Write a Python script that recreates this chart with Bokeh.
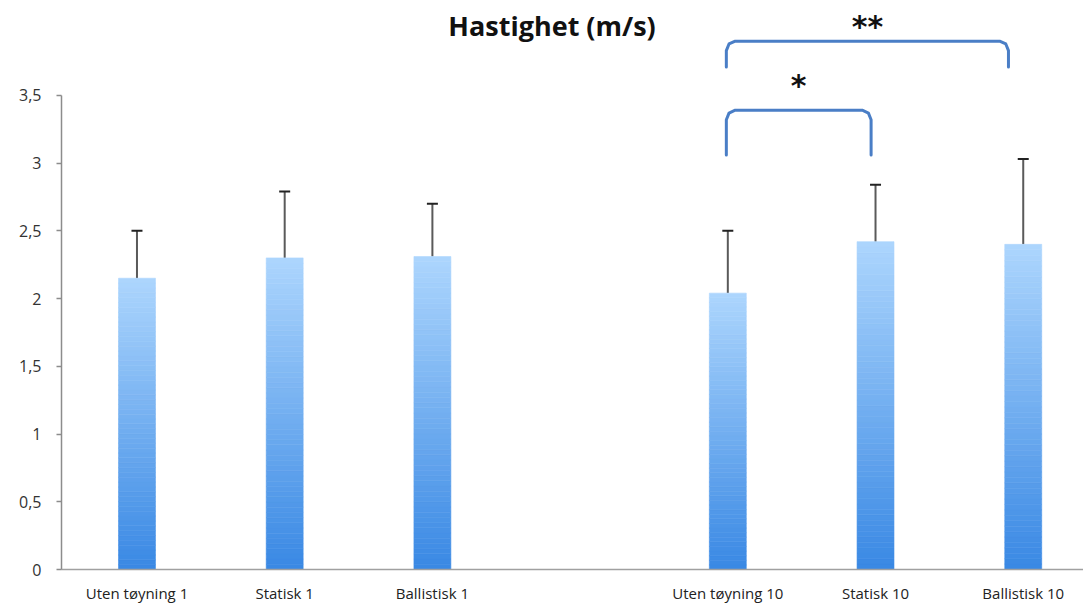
from bokeh.plotting import figure
from bokeh.models import ColumnDataSource, FixedTicker, Whisker, TeeHead, Range1d
from bokeh.embed import file_html
from bokeh.resources import INLINE
from bokeh.core.properties import value

# ---- data ----
title_text = "Hastighet (m/s)"
categories = ["Uten tøyning 1", "Statisk 1", "Ballistisk 1",
              "Uten tøyning 10", "Statisk 10", "Ballistisk 10"]
means = [2.15, 2.30, 2.31, 2.04, 2.42, 2.40]
upper_err = [2.50, 2.79, 2.70, 2.50, 2.84, 3.03]
y_ticks = [0, 0.5, 1, 1.5, 2, 2.5, 3, 3.5]
y_tick_labels = ["0", "0,5", "1", "1,5", "2", "2,5", "3", "3,5"]

sig_labels = ["*", "**"]
sig_x0 = [3.99, 3.99]
sig_x1 = [4.97, 5.90]
sig_top = [3.39, 3.90]
sig_bottom = [3.06, 3.71]
sig_label_y = [3.57, 4.01]

group_size = 3
xs = [i + i // group_size for i in range(len(categories))]

# ---- figure ----
p = figure(width=1083, height=605, output_backend="svg", toolbar_location=None,
           x_range=Range1d(-0.511, 6.408), y_range=Range1d(0, 4.2),
           min_border_left=61, min_border_right=0, min_border_top=0,
           min_border_bottom=35)
p.outline_line_color = None
p.xgrid.grid_line_color = None
p.ygrid.grid_line_color = None
p.background_fill_color = "white"

# gradient bars (slices from bottom dark to top light)
N = 60
c_bot = (58, 137, 228)
c_top = (172, 213, 253)
bx, bb, bt, bc = [], [], [], []
for x, m in zip(xs, means):
    for k in range(N):
        t = k / (N - 1)
        col = tuple(int(round(c_bot[j] + (c_top[j] - c_bot[j]) * t)) for j in range(3))
        bx.append(x)
        bb.append(m * k / N)
        bt.append(m * (k + 1) / N)
        bc.append("#%02x%02x%02x" % col)
bar_src = ColumnDataSource(dict(x=bx, bottom=bb, top=bt, color=bc))
p.vbar(x="x", bottom="bottom", top="top", width=0.25, source=bar_src,
       fill_color="color", line_color="color", line_width=0.6)

# error bars (upper only)
err_src = ColumnDataSource(dict(x=xs, lower=means, upper=upper_err))
p.add_layout(Whisker(base="x", lower="lower", upper="upper", source=err_src,
                     line_color="#5a5a5a", line_width=2,
                     upper_head=TeeHead(size=11, line_color="#222222", line_width=2),
                     lower_head=None))

# significance brackets
rx, ry = 0.06, 0.07
bxs, bys = [], []
for x0, x1, top, bot in zip(sig_x0, sig_x1, sig_top, sig_bottom):
    bxs.append([x0, x0, x0 + rx * 0.3, x0 + rx, x1 - rx, x1 - rx * 0.3, x1, x1])
    bys.append([bot, top - ry, top - ry * 0.3, top, top, top - ry * 0.3, top - ry, bot])
p.multi_line(xs=bxs, ys=bys, line_color="#4a7ec6", line_width=3,
             line_join="round", line_cap="round")
p.text(x=[(a + b) / 2 for a, b in zip(sig_x0, sig_x1)], y=sig_label_y, text=sig_labels,
       text_align="center", text_baseline="middle", text_font=value("DejaVu Sans"),
       text_font_style="bold", text_font_size="30px", text_color="#111111")

# title
p.text(x=[2.81], y=[4.015], text=[title_text], text_align="center",
       text_baseline="middle", text_font=value("Open Sans"), text_font_style="bold",
       text_font_size="27px", text_color="#111111")

# axes
p.yaxis.bounds = (0, 3.5)
p.yaxis.ticker = FixedTicker(ticks=y_ticks)
p.yaxis.major_label_overrides = {t: l for t, l in zip(y_ticks, y_tick_labels)}
p.yaxis.minor_tick_line_color = None
p.yaxis.major_tick_in = 0
p.yaxis.major_tick_out = 5
p.yaxis.major_label_standoff = 15
p.yaxis.axis_line_color = "#8c8c8c"
p.yaxis.axis_line_width = 1.5
p.yaxis.major_tick_line_color = "#8c8c8c"
p.yaxis.major_tick_line_width = 1.5
p.yaxis.major_label_text_font = "Open Sans"
p.yaxis.major_label_text_font_size = "16px"
p.yaxis.major_label_text_color = "#333333"

p.xaxis.ticker = FixedTicker(ticks=xs)
p.xaxis.major_label_overrides = {x: c for x, c in zip(xs, categories)}
p.xaxis.minor_tick_line_color = None
p.xaxis.major_tick_line_color = None
p.xaxis.major_tick_in = 0
p.xaxis.major_tick_out = 0
p.xaxis.major_label_standoff = 13
p.xaxis.axis_line_color = "#a0a0a0"
p.xaxis.axis_line_width = 1.5
p.xaxis.major_label_text_font = "Open Sans"
p.xaxis.major_label_text_font_size = "15px"
p.xaxis.major_label_text_color = "#222222"

open("out.html", "w").write(file_html(p, INLINE))
